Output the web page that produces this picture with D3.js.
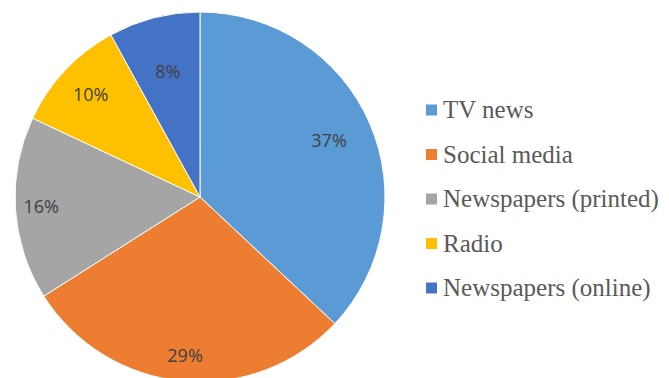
<!DOCTYPE html>
<html><head><meta charset="utf-8">
<script src="https://cdn.jsdelivr.net/npm/d3@7"></script>
</head><body style="margin:0;background:#fff;overflow:hidden">
<svg id="c" width="669" height="378"></svg>
<script>
const categories = ["TV news", "Social media", "Newspapers (printed)", "Radio", "Newspapers (online)"];
const values = [37, 29, 16, 10, 8];
const colors = ["#5B9BD5", "#ED7D31", "#A5A5A5", "#FFC000", "#4472C4"];
const labelRadiusFactor = [0.76, 0.86, 0.86, 0.81, 0.70];

const svg = d3.select("#c");
const cx = 200, cy = 197, R = 185;
const g = svg.append("g").attr("transform", `translate(${cx},${cy})`);
const pie = d3.pie().sort(null).value(d => d)(values);
const arc = d3.arc().innerRadius(0).outerRadius(R);
g.selectAll("path").data(pie).join("path")
  .attr("d", arc).attr("fill", (d,i) => colors[i])
  .attr("stroke", "#fff").attr("stroke-width", 1);
g.selectAll("text").data(pie).join("text")
  .attr("transform", (d,i) => {
    const r = R * labelRadiusFactor[i];
    const c = d3.arc().innerRadius(r).outerRadius(r).centroid(d);
    return `translate(${c[0]},${c[1]})`;
  })
  .attr("text-anchor", "middle").attr("dy", "0.35em")
  .style("font-family", '"Open Sans"').attr("font-size", 18)
  .attr("fill", "#404040")
  .text(d => d.value + "%");

const legX = 426, legY = 110, legStep = 44.5;
categories.forEach((c, i) => {
  svg.append("rect").attr("x", legX).attr("y", legY + i*legStep - 5.5)
    .attr("width", 11).attr("height", 11).attr("fill", colors[i]);
  svg.append("text").attr("x", legX + 17).attr("y", legY + i*legStep).attr("dy", "0.33em")
    .style("font-family", '"Times New Roman"').attr("font-size", 25)
    .attr("fill", "#595959").text(c);
});
</script>
</body></html>
